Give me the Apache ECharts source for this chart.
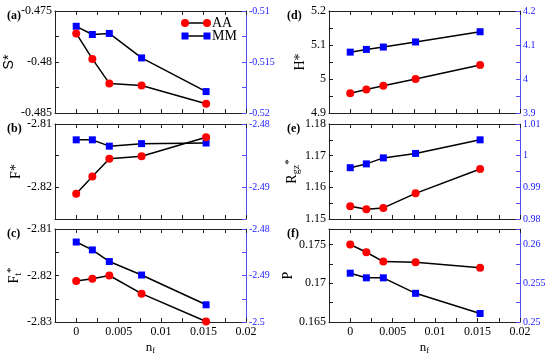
<!DOCTYPE html>
<html><head><meta charset="utf-8">
<script src="https://cdn.jsdelivr.net/npm/echarts@6/dist/echarts.min.js"></script>
<style>html,body{margin:0;padding:0;background:#fff}#c{width:550px;height:356px}</style>
</head><body><div id="c"></div>
<script>
// ---- data ----
const nf = [0, 0.0019, 0.0039, 0.0077, 0.0153];
const xTickLabels = ['0', '0.005', '0.01', '0.015', '0.02'];
const S_AA  = [-0.4772, -0.4797, -0.4821, -0.4823, -0.4841];
const S_MM  = [-0.5115, -0.5123, -0.5122, -0.5146, -0.5179];
const F_AA  = [-2.8210, -2.8183, -2.8155, -2.8151, -2.8121];
const F_MM  = [-2.4825, -2.4825, -2.4835, -2.4831, -2.4830];
const Ft_AA = [-2.8212, -2.8207, -2.8200, -2.8239, -2.8299];
const Ft_MM = [-2.4828, -2.4845, -2.4870, -2.4899, -2.4963];
const H_AA  = [4.958, 4.969, 4.980, 5.000, 5.041];
const H_MM  = [4.079, 4.087, 4.094, 4.109, 4.139];
const R_AA  = [1.1540, 1.1531, 1.1535, 1.1581, 1.1658];
const R_MM  = [0.9962, 0.9974, 0.9993, 1.0007, 1.0050];
const P_AA  = [0.1750, 0.1740, 0.1728, 0.1727, 0.1720];
const P_MM  = [0.2563, 0.2557, 0.2557, 0.2537, 0.2511];
const seriesNames = ['AA', 'MM'];
const panelLabels = ['(a)', '(b)', '(c)', '(d)', '(e)', '(f)'];
// axis ranges: [min, max, tickStep, labelStep]
const leftAxes = [
  [-0.485, -0.475, 0.0025, 0.005],
  [-2.825, -2.81, 0.005, 0.01],
  [-2.83, -2.81, 0.005, 0.01],
  [4.9, 5.2, 0.05, 0.1],
  [1.15, 1.18, 0.005, 0.01],
  [0.165, 0.177, 0.0025, 0.005]
];
const rightAxes = [
  [-0.52, -0.51, 0.0025, 0.005],
  [-2.495, -2.48, 0.005, 0.01],
  [-2.5, -2.48, 0.005, 0.01],
  [3.9, 4.2, 0.05, 0.1],
  [0.98, 1.01, 0.005, 0.01],
  [0.25, 0.262, 0.0025, 0.005]
];
const xRange = [-0.0025, 0.02, 0.0025, 0.005];
const aaData = [S_AA, F_AA, Ft_AA, H_AA, R_AA, P_AA];
const mmData = [S_MM, F_MM, Ft_MM, H_MM, R_MM, P_MM];
const yNames = ['S*', 'F*', '{b|F}{sub|t}{sup|*}', 'H*', '{b|R}{sub|gz}{sup|*}', 'P'];

// ---- layout ----
const tops = [11, 124, 229], heights = [102, 95, 96];
const lefts = [55, 329], W = 191;
const nameGaps = [39, 32, 32, 11, 27, 33];
const SERIF = 'Liberation Serif';

function fmt(step) {
  return function (v) {
    const r = v / step;
    if (Math.abs(r - Math.round(r)) > 1e-6) return '';
    return String(parseFloat(v.toFixed(6)));
  };
}

const grid = [], xAxis = [], yAxis = [], series = [], title = [];
for (let i = 0; i < 6; i++) {
  const col = i < 3 ? 0 : 1, row = i % 3;
  grid.push({ left: lefts[col], top: tops[row], width: W, height: heights[row] });
  const bottomRow = row === 2;
  const xBase = {
    type: 'value', gridIndex: i, min: xRange[0], max: xRange[1], interval: xRange[2],
    splitLine: { show: false },
    axisLine: { onZero: false, lineStyle: { color: '#222', width: 1 } },
    axisTick: { inside: true, length: 4, lineStyle: { color: '#222' } }
  };
  xAxis.push(Object.assign({}, xBase, {
    position: 'bottom',
    axisLabel: {
      show: bottomRow, fontFamily: SERIF, fontSize: 12, color: '#000', margin: 4,
      showMinLabel: true, showMaxLabel: true,
      formatter: function (v) {
        const r = v / xRange[3];
        if (Math.abs(r - Math.round(r)) > 1e-6) return '';
        return xTickLabels[Math.round(r)] || '';
      }
    },
    name: bottomRow ? '{b|n}{sub|f}' : '',
    nameLocation: 'middle', nameGap: 18,
    nameTextStyle: {
      fontFamily: SERIF, fontSize: 13, color: '#000',
      rich: { b: { fontFamily: SERIF, fontSize: 13 }, sub: { fontFamily: SERIF, fontSize: 9, verticalAlign: 'bottom', padding: [6, 0, 0, 0] } }
    }
  }));
  xAxis.push(Object.assign({}, xBase, { position: 'top', axisLabel: { show: false } }));
  const la = leftAxes[i], ra = rightAxes[i];
  const nameFont = i === 0 ? 'Liberation Sans' : SERIF;
  yAxis.push({
    type: 'value', gridIndex: i, position: 'left', min: la[0], max: la[1], interval: la[2],
    splitLine: { show: false },
    axisLine: { show: true, onZero: false, lineStyle: { color: '#222' } },
    axisTick: { inside: true, length: 4, lineStyle: { color: '#222' } },
    axisLabel: { fontFamily: SERIF, fontSize: 12, color: '#000', margin: 3, showMinLabel: true, showMaxLabel: true, formatter: fmt(la[3]) },
    name: yNames[i], nameLocation: 'middle', nameGap: nameGaps[i], nameRotate: 90,
    nameTextStyle: {
      fontFamily: nameFont, fontSize: 14, color: '#000',
      rich: {
        b: { fontFamily: SERIF, fontSize: 14 },
        sub: { fontFamily: SERIF, fontSize: 10, verticalAlign: 'bottom', padding: [7, 0, 0, 0] },
        sup: { fontFamily: SERIF, fontSize: 11, verticalAlign: 'top', padding: [0, 0, 4, 0] }
      }
    }
  });
  yAxis.push({
    type: 'value', gridIndex: i, position: 'right', min: ra[0], max: ra[1], interval: ra[2],
    splitLine: { show: false },
    axisLine: { show: true, onZero: false, lineStyle: { color: '#5050f0' } },
    axisTick: { inside: true, length: 4, lineStyle: { color: '#5050f0' } },
    axisLabel: { fontFamily: SERIF, fontSize: 10, color: '#2020ff', margin: 3, showMinLabel: true, showMaxLabel: true, formatter: fmt(ra[3]) }
  });
  series.push({
    name: seriesNames[0], type: 'line', xAxisIndex: 2 * i, yAxisIndex: 2 * i, clip: false,
    data: nf.map((x, k) => [x, aaData[i][k]]),
    symbol: 'circle', symbolSize: 8, itemStyle: { color: '#ff0000' },
    lineStyle: { color: '#000', width: 1.5 }, animation: false, z: 3
  });
  series.push({
    name: seriesNames[1], type: 'line', xAxisIndex: 2 * i, yAxisIndex: 2 * i + 1, clip: false,
    data: nf.map((x, k) => [x, mmData[i][k]]),
    symbol: 'rect', symbolSize: 7, itemStyle: { color: '#0000ff' },
    lineStyle: { color: '#000', width: 1.5 }, animation: false, z: 2
  });
  title.push({
    text: panelLabels[i], left: col === 0 ? 2 : 282, top: tops[row] - 6,
    textStyle: { fontFamily: SERIF, fontSize: 12, fontWeight: 'bold', color: '#000' }
  });
}

// legend drawn as graphic (line with markers at both ends, as in the reference)
const lx0 = 185, lx1 = 207;
const graphic = [
  { type: 'line', shape: { x1: lx0, y1: 23, x2: lx1, y2: 23 }, style: { stroke: '#000', lineWidth: 1.5 } },
  { type: 'circle', shape: { cx: lx0, cy: 23, r: 4 }, style: { fill: '#ff0000' } },
  { type: 'circle', shape: { cx: lx1, cy: 23, r: 4 }, style: { fill: '#ff0000' } },
  { type: 'text', x: 212, y: 23, style: { text: seriesNames[0], font: '14px "Liberation Serif"', fill: '#000', textVerticalAlign: 'middle', verticalAlign: 'middle' } },
  { type: 'line', shape: { x1: lx0, y1: 36, x2: lx1, y2: 36 }, style: { stroke: '#000', lineWidth: 1.5 } },
  { type: 'rect', shape: { x: lx0 - 3.5, y: 32.5, width: 7, height: 7 }, style: { fill: '#0000ff' } },
  { type: 'rect', shape: { x: lx1 - 3.5, y: 32.5, width: 7, height: 7 }, style: { fill: '#0000ff' } },
  { type: 'text', x: 212, y: 36, style: { text: seriesNames[1], font: '14px "Liberation Serif"', fill: '#000', textVerticalAlign: 'middle', verticalAlign: 'middle' } }
];

const chart = echarts.init(document.getElementById('c'), null, { renderer: 'canvas' });
chart.setOption({ animation: false, backgroundColor: '#fff', title, grid, xAxis, yAxis, series, graphic });
</script></body></html>
